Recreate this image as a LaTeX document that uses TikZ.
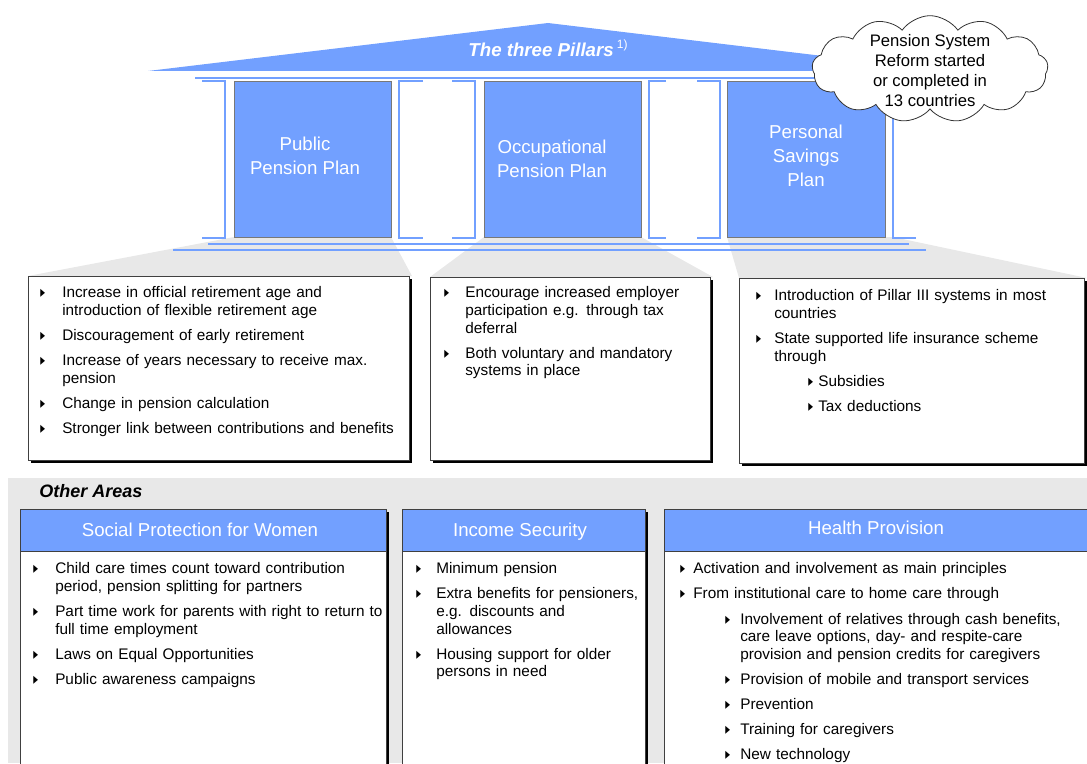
\documentclass[tikz,border=0pt]{standalone}
\usepackage{fontspec}
\usepackage{graphicx}
\setmainfont{Liberation Sans}
\newfontfamily\dejavu{DejaVu Sans}
\usetikzlibrary{shapes.symbols,shadows}
\definecolor{pblue}{RGB}{114,160,255}
\definecolor{lgrey}{RGB}{232,232,232}
\definecolor{bgrey}{RGB}{120,120,120}
\newcommand\bul{\scalebox{0.65}[1.1]{\dejavu\fontsize{11}{11}\selectfont ▸}}
\newlength\igap \setlength\igap{5.6pt}
\newcommand\itm[3]{\par\hangindent=#2\hangafter=1\noindent\hbox to #1{\hss}\hbox to \dimexpr#2-#1\relax{\bul\hss}#3\par\vspace{\igap}}
\tikzset{
  bl/.style={draw=pblue, line width=1.5pt},
  pillar/.style={draw=bgrey, fill=pblue, line width=0.8pt, anchor=north west, inner sep=0pt, minimum height=117pt},
  ptext/.style={text=white, font=\fontsize{14}{18}\selectfont, align=center, inner sep=0pt},
  lst/.style={anchor=north west, inner sep=0pt, text width=380pt, align=left, font=\fontsize{11.5}{13.2}\selectfont},
  tbox/.style={draw=black!75, fill=white, line width=0.6pt, anchor=north west, inner sep=0pt,
    drop shadow={shadow xshift=2.2pt, shadow yshift=-2.2pt, fill=black, opacity=1}},
  hbox/.style={draw=black!75, fill=pblue, line width=0.6pt, anchor=north west, inner sep=0pt, minimum height=31.5pt},
  htext/.style={text=white, font=\fontsize{14}{16}\selectfont, inner sep=0pt},
}
\begin{document}
\begin{tikzpicture}[x=0.75pt,y=-0.75pt]
\useasboundingbox (0,0) rectangle (1087,763);
% grey shadows
\fill[lgrey] (234,237) -- (391,237) -- (412,276) -- (28,276) -- cycle;
\fill[lgrey] (484,237) -- (641,237) -- (713,277) -- (430,277) -- cycle;
\fill[lgrey] (727,237) -- (893,237) -- (1087,278) -- (739,278) -- cycle;
% bottom panel
\fill[lgrey] (8,478) rectangle (1087,763);
% roof
\fill[pblue] (148,71) -- (548,23) -- (948,71) -- cycle;
\node[text=white, inner sep=0pt] (title) at (548,48) {\fontsize{14}{16}\selectfont\bfseries\itshape The three Pillars\,\raisebox{0.45em}{\normalfont\fontsize{9}{9}\selectfont 1)}};
% entablature and base
\draw[bl] (195,78) -- (905,78);
\draw[bl] (202,81) -- (225,81) -- (225,238) -- (202,238);
\draw[bl] (423,81) -- (399,81) -- (399,238) -- (423,238);
\draw[bl] (452,81) -- (475,81) -- (475,238) -- (452,238);
\draw[bl] (666,81) -- (649,81) -- (649,238) -- (666,238);
\draw[bl] (697,81) -- (720,81) -- (720,238) -- (697,238);
\draw[bl] (916,81) -- (893,81) -- (893,238) -- (916,238);
\draw[bl] (208,244) -- (909,244);
\draw[bl] (173,250) -- (926,250);
% pillars
\node[pillar, minimum width=117.75pt] (p1) at (234,81) {};
\node[pillar, minimum width=117.75pt] (p2) at (484,81) {};
\node[pillar, minimum width=118.5pt] (p3) at (727,81) {};
\node[ptext] (t1) at (305,155.5) {Public\\Pension Plan};
\node[ptext] (t2) at (552,159) {Occupational\\Pension Plan};
\node[ptext] (t3) at (806,156) {Personal\\Savings\\Plan};
% top boxes
\node[tbox, minimum width=285.75pt, minimum height=138pt] (b1) at (28,276) {};
\node[tbox, minimum width=210pt, minimum height=137.25pt] (b2) at (430,277) {};
\node[tbox, minimum width=258.75pt, minimum height=138.75pt] (b3) at (739,278) {};
\node[lst] (l1) at (40,280) {%
\itm{0pt}{16.5pt}{Increase in official retirement age and\newline introduction of flexible retirement age}%
\itm{0pt}{16.5pt}{Discouragement of early retirement}%
\itm{0pt}{16.5pt}{Increase of years necessary to receive max.\newline pension}%
\itm{0pt}{16.5pt}{Change in pension calculation}%
\itm{0pt}{16.5pt}{Stronger link between contributions and benefits}};
\node[lst] (l2) at (444,280) {%
\itm{0pt}{15.75pt}{Encourage increased employer\newline participation e.g. through tax\newline deferral}%
\itm{0pt}{15.75pt}{Both voluntary and mandatory\newline systems in place}};
\node[lst] (l3) at (756,283) {%
\itm{0pt}{13.5pt}{Introduction of Pillar III systems in most\newline countries}%
\itm{0pt}{13.5pt}{State supported life insurance scheme\newline through}%
\itm{39pt}{46.5pt}{Subsidies}%
\itm{39pt}{46.5pt}{Tax deductions}};
% cloud
\node[cloud, draw=black!80, fill=white, line width=0.6pt, cloud puffs=13, cloud puff arc=110, aspect=2.2, minimum width=177pt, minimum height=80pt, inner sep=0pt] (cloud) at (930,69) {};
\node[inner sep=0pt, align=center, font=\fontsize{12.5}{15}\selectfont] (ctext) at (930,70.5) {Pension System\\Reform started\\or completed in\\13 countries};
% other areas
\node[anchor=west, inner sep=0pt, font=\fontsize{13.5}{15}\selectfont\bfseries\itshape] (oa) at (39,491) {Other Areas};
\node[tbox, minimum width=274.5pt, minimum height=200pt] (c1) at (20,509) {};
\node[tbox, minimum width=182.25pt, minimum height=200pt] (c2) at (402,509) {};
\node[tbox, minimum width=325pt, minimum height=200pt] (c3) at (664,509) {};
\node[hbox, minimum width=274.5pt] (h1) at (20,509) {};
\node[hbox, minimum width=182.25pt] (h2) at (402,509) {};
\node[hbox, minimum width=325pt] (h3) at (664,509) {};
\node[htext] (ht1) at (200,530) {Social Protection for Women};
\node[htext] (ht2) at (520,532) {Income Security};
\node[htext] (ht3) at (876,528) {Health Provision};
\node[lst] (m1) at (33,556) {%
\itm{0pt}{16.5pt}{Child care times count toward contribution\newline period, pension splitting for partners}%
\itm{0pt}{16.5pt}{Part time work for parents with right to return to\newline full time employment}%
\itm{0pt}{16.5pt}{Laws on Equal Opportunities}%
\itm{0pt}{16.5pt}{Public awareness campaigns}};
\node[lst] (m2) at (416,556) {%
\itm{0pt}{15pt}{Minimum pension}%
\itm{0pt}{15pt}{Extra benefits for pensioners,\newline e.g. discounts and\newline allowances}%
\itm{0pt}{15pt}{Housing support for older\newline persons in need}};
\node[lst] (m3) at (680,556) {%
\itm{0pt}{9.75pt}{Activation and involvement as main principles}%
\itm{0pt}{9.75pt}{From institutional care to home care through}%
\itm{33.75pt}{45pt}{Involvement of relatives through cash benefits,\newline care leave options, day- and respite-care\newline provision and pension credits for caregivers}%
\itm{33.75pt}{45pt}{Provision of mobile and transport services}%
\itm{33.75pt}{45pt}{Prevention}%
\itm{33.75pt}{45pt}{Training for caregivers}%
\itm{33.75pt}{45pt}{New technology}};
\end{tikzpicture}
\end{document}
